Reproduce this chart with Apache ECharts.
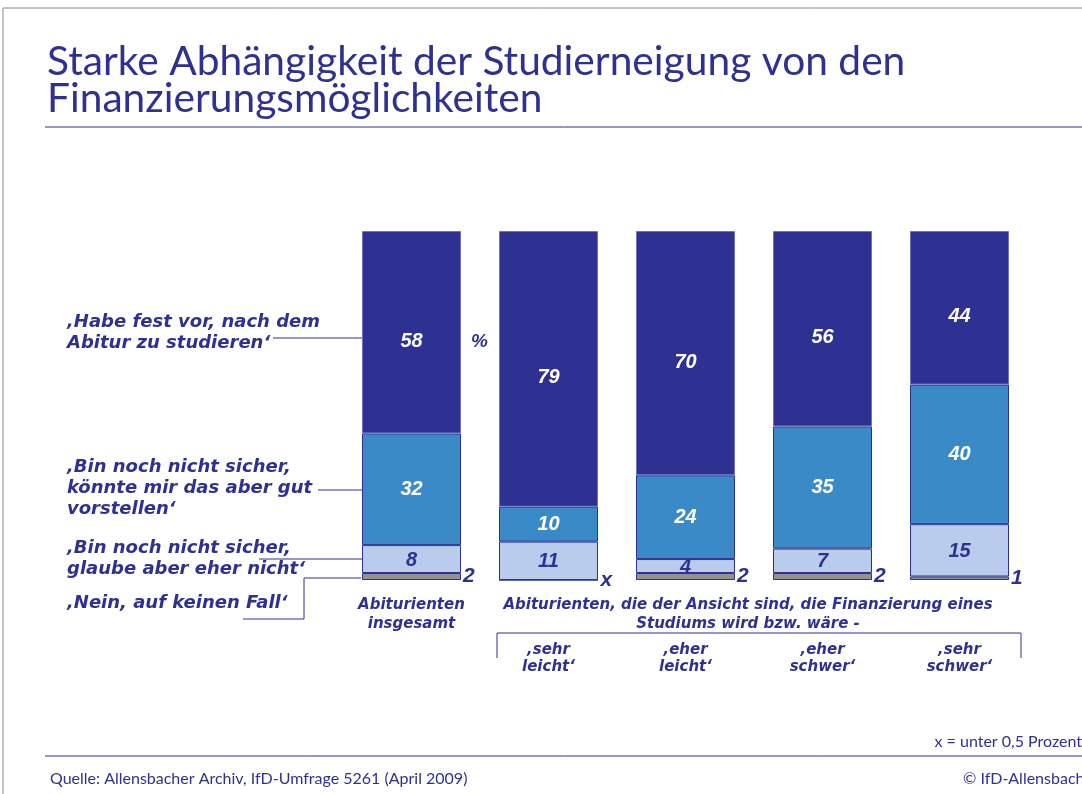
<!DOCTYPE html>
<html>
<head>
<meta charset="utf-8">
<script src="https://cdn.jsdelivr.net/npm/echarts@6/dist/echarts.min.js"></script>
<style>
  html, body { margin: 0; padding: 0; background: #fff; }
  #chart { width: 1082px; height: 794px; }
</style>
</head>
<body>
<div id="chart"></div>
<script>
// Kategorien (x-Achse)
var categories = ['Abiturienten\ninsgesamt', '‚sehr\nleicht‘', '‚eher\nleicht‘', '‚eher\nschwer‘', '‚sehr\nschwer‘'];
// Werte in Prozent, von unten nach oben gestapelt
var neinValues = [2, 0, 2, 2, 1];
var neinLabels = ['2', 'x', '2', '2', '1'];
var eherNichtValues = [8, 11, 4, 7, 15];
var vorstellenValues = [32, 10, 24, 35, 40];
var festVorValues = [58, 79, 70, 56, 44];

var navy = '#2E3192';
var numFont = 'Liberation Sans, Arial, sans-serif';
var labelFont = 'DejaVu Sans, sans-serif';
var titleFont = 'Lato, Noto Sans, sans-serif';

var chart = echarts.init(document.getElementById('chart'));

function segLabel(color, offsetY) {
  return {
    show: true,
    position: 'inside',
    offset: [0, offsetY || 0],
    color: color,
    fontFamily: numFont,
    fontStyle: 'italic',
    fontWeight: 'bold',
    fontSize: 20
  };
}

var axisRich = { fontFamily: labelFont, fontStyle: 'italic', fontWeight: 'bold', fontSize: 15, color: navy };
var legendFont = 'italic bold 18px ' + labelFont;

var option = {
  animation: false,
  backgroundColor: '#fff',
  grid: { left: 343, top: 231, width: 685, height: 349 },
  xAxis: {
    type: 'category',
    data: categories,
    axisLine: { show: false },
    axisTick: { show: false },
    axisLabel: {
      interval: 0,
      margin: 16,
      color: navy,
      formatter: function (value, idx) {
        var lines = value.split('\n');
        if (idx === 0) {
          return '{a|' + lines[0] + '}\n{a|' + lines[1] + '}';
        }
        return '{gap| }\n{b|' + lines[0] + '}\n{b|' + lines[1] + '}';
      },
      rich: {
        a: Object.assign({ lineHeight: 19 }, axisRich),
        b: Object.assign({ lineHeight: 17 }, axisRich),
        gap: { fontSize: 10, lineHeight: 46, height: 46 }
      }
    }
  },
  yAxis: {
    type: 'value',
    min: 0,
    max: 100,
    show: false,
    splitLine: { show: false }
  },
  series: [
    {
      name: 'Nein, auf keinen Fall',
      type: 'bar',
      stack: 'total',
      barWidth: 99,
      data: neinValues,
      itemStyle: { color: '#929292', borderColor: navy, borderWidth: 1 },
      label: {
        show: true,
        position: 'right',
        distance: 2,
        offset: [0, 0],
        color: navy,
        fontFamily: numFont,
        fontStyle: 'italic',
        fontWeight: 'bold',
        fontSize: 21,
        formatter: function (p) { return neinLabels[p.dataIndex]; }
      }
    },
    {
      name: 'glaube aber eher nicht',
      type: 'bar',
      stack: 'total',
      data: eherNichtValues,
      itemStyle: { color: '#BACCEB', borderColor: navy, borderWidth: 1 },
      label: segLabel(navy, 1)
    },
    {
      name: 'könnte mir das aber gut vorstellen',
      type: 'bar',
      stack: 'total',
      data: vorstellenValues,
      itemStyle: { color: '#3A8AC8', borderColor: navy, borderWidth: 1 },
      label: segLabel('#fff', 0)
    },
    {
      name: 'Habe fest vor',
      type: 'bar',
      stack: 'total',
      data: festVorValues,
      itemStyle: { color: '#2E3192', borderColor: '#6f72c0', borderWidth: 1 },
      label: segLabel('#fff', 9)
    }
  ],
  graphic: [
    // Rahmen
    { type: 'polyline', shape: { points: [[3, 794], [3, 8], [1082, 8]] }, style: { stroke: '#8a8a8a', lineWidth: 1, fill: null } },
    // Titel
    { type: 'text', x: 47, y: 43, style: { text: 'Starke Abhängigkeit der Studierneigung von den\nFinanzierungsmöglichkeiten', fill: navy, font: '40.7px ' + titleFont, lineHeight: 37 } },
    { type: 'line', shape: { x1: 45, y1: 127, x2: 1082, y2: 127 }, style: { stroke: navy, lineWidth: 1 } },
    // Legende links mit Führungslinien
    { type: 'text', x: 67, y: 312, style: { text: '‚Habe fest vor, nach dem\nAbitur zu studieren‘', fill: navy, font: legendFont, lineHeight: 21 } },
    { type: 'line', shape: { x1: 273, y1: 338, x2: 362, y2: 338 }, style: { stroke: navy, lineWidth: 1 } },
    { type: 'text', x: 67, y: 457, style: { text: '‚Bin noch nicht sicher,\nkönnte mir das aber gut\nvorstellen‘', fill: navy, font: legendFont, lineHeight: 21 } },
    { type: 'line', shape: { x1: 318, y1: 490, x2: 362, y2: 490 }, style: { stroke: navy, lineWidth: 1 } },
    { type: 'text', x: 67, y: 538, style: { text: '‚Bin noch nicht sicher,\nglaube aber eher nicht‘', fill: navy, font: legendFont, lineHeight: 21 } },
    { type: 'line', shape: { x1: 259, y1: 559, x2: 362, y2: 559 }, style: { stroke: navy, lineWidth: 1 } },
    { type: 'text', x: 67, y: 594, style: { text: '‚Nein, auf keinen Fall‘', fill: navy, font: legendFont } },
    { type: 'polyline', shape: { points: [[243, 619], [304, 619], [304, 578], [361, 578]] }, style: { stroke: navy, lineWidth: 1, fill: null } },
    // Prozentzeichen
    { type: 'text', x: 471, y: 332, style: { text: '%', fill: navy, font: 'italic bold 19px ' + numFont } },
    // Gruppenbeschriftung
    { type: 'text', x: 748, y: 596, style: { text: 'Abiturienten, die der Ansicht sind, die Finanzierung eines\nStudiums wird bzw. wäre -', fill: navy, font: 'italic bold 15px ' + labelFont, lineHeight: 19, align: 'center' } },
    { type: 'polyline', shape: { points: [[497, 658], [497, 633], [1021, 633], [1021, 658]] }, style: { stroke: navy, lineWidth: 1, fill: null } },
    // Fußnoten
    { type: 'text', x: 1082, y: 734, style: { text: 'x = unter 0,5 Prozent', fill: navy, font: '16px ' + titleFont, align: 'right' } },
    { type: 'line', shape: { x1: 45, y1: 756, x2: 1082, y2: 756 }, style: { stroke: navy, lineWidth: 1 } },
    { type: 'text', x: 50, y: 771, style: { text: 'Quelle: Allensbacher Archiv, IfD-Umfrage 5261 (April 2009)', fill: navy, font: '16px ' + titleFont } },
    { type: 'text', x: 963, y: 771, style: { text: '© IfD-Allensbach', fill: navy, font: '16px ' + titleFont } }
  ]
};

chart.setOption(option);
</script>
</body>
</html>
